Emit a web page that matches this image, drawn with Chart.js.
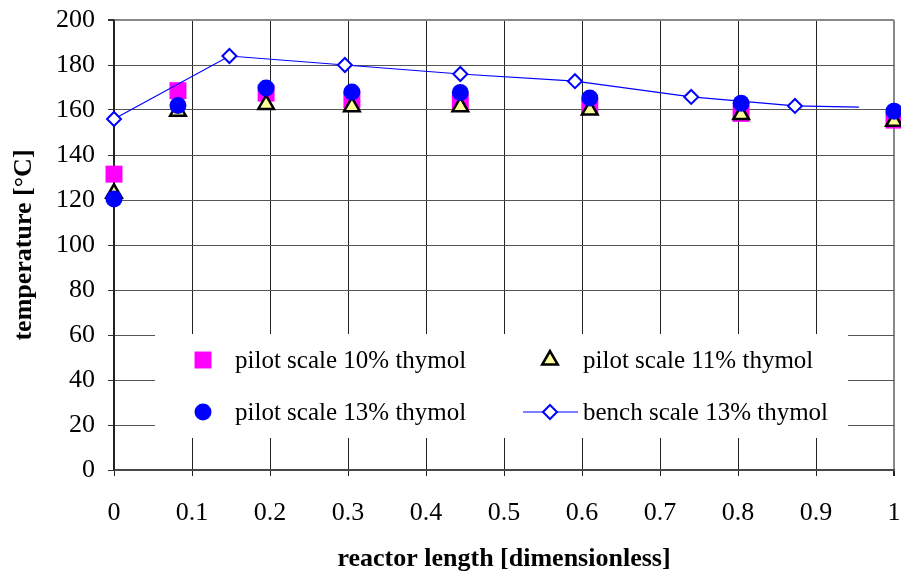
<!DOCTYPE html>
<html><head><meta charset="utf-8">
<script src="https://cdn.jsdelivr.net/npm/chart.js@4"></script>
<style>html,body{margin:0;padding:0;background:#fff}</style>
</head><body>
<canvas id="c" width="901" height="579"></canvas>
<script>
// ---- data ----
const xTickValues = [0, 0.1, 0.2, 0.3, 0.4, 0.5, 0.6, 0.7, 0.8, 0.9, 1];
const xTickLabels = ["0", "0.1", "0.2", "0.3", "0.4", "0.5", "0.6", "0.7", "0.8", "0.9", "1"];
const yTickValues = [0, 20, 40, 60, 80, 100, 120, 140, 160, 180, 200];
const yTickLabels = ["0", "20", "40", "60", "80", "100", "120", "140", "160", "180", "200"];

const pilotX   = [0, 0.082, 0.195, 0.305, 0.444, 0.610, 0.804, 1.0];
const pilot10  = [131.5, 168.6, 167.5, 164.5, 163.5, 161.5, 158.5, 155.5];
const pilot11  = [123, 159.5, 162.5, 161.5, 161.5, 160, 158, 155];
const pilot13  = [120.5, 162, 169.8, 168, 167.8, 165.3, 163, 159.5];

const benchX   = [0, 0.148, 0.296, 0.444, 0.591, 0.740, 0.873, 0.955];
const bench13  = [156, 184, 180, 176, 172.8, 165.8, 161.8, 161.3];
const benchMarker = [true, true, true, true, true, true, true, false];

const seriesNames = ["pilot scale 10% thymol", "pilot scale 11% thymol",
                     "pilot scale 13% thymol", "bench scale 13% thymol"];
const xTitle = "reactor length [dimensionless]";
const yTitle = "temperature [\u00B0C]";

const pts = (xs, ys) => xs.map((x, i) => ({x: x, y: ys[i]}));

const FONT = '"Liberation Serif", "Times New Roman", serif';

const legendPlugin = {
  id: 'boxLegend',
  afterDraw(chart) {
    const ctx = chart.ctx;
    const ca = chart.chartArea;
    ctx.save();
    const bx = ca.left + 41, by = ca.top + 314, bw = 693, bh = 104;
    ctx.fillStyle = '#ffffff';
    ctx.fillRect(bx, by, bw, bh);
    const markX = [bx + 48, bx + 395];
    const textX = [bx + 80, bx + 428];
    const rowY = [by + 26, by + 78];
    chart.data.datasets.forEach((ds, i) => {
      const col = i % 2, row = Math.floor(i / 2);
      const mx = markX[col], my = rowY[row];
      if (ds.showLine) {
        ctx.strokeStyle = ds.borderColor;
        ctx.lineWidth = ds.borderWidth;
        ctx.beginPath();
        ctx.moveTo(mx - 27, my);
        ctx.lineTo(mx + 28, my);
        ctx.stroke();
      }
      ctx.fillStyle = ds.pointBackgroundColor;
      ctx.strokeStyle = ds.pointBorderColor;
      ctx.lineWidth = ds.pointBorderWidth;
      Chart.helpers.drawPoint(ctx, {
        pointStyle: ds.pointStyle,
        radius: ds.legendRadius,
        rotation: 0,
        borderWidth: ds.pointBorderWidth
      }, mx, my);
      ctx.fillStyle = '#000';
      ctx.font = '25px ' + FONT;
      ctx.textBaseline = 'middle';
      ctx.textAlign = 'left';
      ctx.fillText(ds.label, textX[col], my + 1);
    });
    ctx.restore();
  }
};

new Chart(document.getElementById('c'), {
  type: 'scatter',
  data: {
    datasets: [
      {
        label: seriesNames[0], data: pts(pilotX, pilot10), order: 4, clip: false,
        pointStyle: 'rect', pointRadius: 12, legendRadius: 12,
        pointBackgroundColor: '#ff00ff', pointBorderColor: '#ff00ff', pointBorderWidth: 0,
        borderColor: '#ff00ff', backgroundColor: '#ff00ff'
      },
      {
        label: seriesNames[1], data: pts(pilotX, pilot11), order: 3, clip: false,
        pointStyle: 'triangle', pointRadius: 9, legendRadius: 9,
        pointBackgroundColor: '#ffff99', pointBorderColor: '#000000', pointBorderWidth: 2.5,
        borderColor: '#000000', backgroundColor: '#ffff99'
      },
      {
        label: seriesNames[2], data: pts(pilotX, pilot13), order: 1, clip: false,
        pointStyle: 'circle', pointRadius: 8.5, legendRadius: 8.5,
        pointBackgroundColor: '#0000ff', pointBorderColor: '#0000ff', pointBorderWidth: 0,
        borderColor: '#0000ff', backgroundColor: '#0000ff'
      },
      {
        label: seriesNames[3], data: pts(benchX, bench13), order: 2, clip: false,
        showLine: true, borderColor: '#0000ff', borderWidth: 1.2, backgroundColor: '#ffffff',
        pointStyle: 'rectRot', pointRadius: benchMarker.map(m => m ? 7 : 0), legendRadius: 7,
        pointBackgroundColor: '#ffffff', pointBorderColor: '#0000ff', pointBorderWidth: 2
      }
    ]
  },
  options: {
    responsive: false,
    animation: false,
    devicePixelRatio: 1,
    events: [],
    layout: {autoPadding: false, padding: {top: 20, right: 7, left: 0, bottom: 0}},
    plugins: {legend: {display: false}, tooltip: {enabled: false}},
    scales: {
      x: {
        type: 'linear', min: 0, max: 1,
        afterBuildTicks: s => { s.ticks = xTickValues.map(v => ({value: v})); },
        afterFit: s => { s.height = 109; s.paddingLeft = 0; s.paddingRight = 0; },
        ticks: {
          color: '#000', font: {family: FONT, size: 26}, padding: 22, maxRotation: 0,
          autoSkip: false,
          callback: (v, i) => xTickLabels[i]
        },
        grid: {
          color: c => (c.tick && c.tick.value === 1) ? '#888' : '#222',
          lineWidth: c => (c.tick && c.tick.value === 1) ? 2 : 1,
          tickLength: 6, tickColor: '#222'
        },
        border: {display: true, color: '#444', width: 1.5},
        title: {display: true, text: xTitle, color: '#000',
                font: {family: FONT, size: 26, weight: 'bold'}, padding: {top: 0, bottom: 4}}
      },
      y: {
        type: 'linear', min: 0, max: 200,
        afterBuildTicks: s => { s.ticks = yTickValues.map(v => ({value: v})); },
        afterFit: s => { s.width = 114; s.paddingTop = 0; s.paddingBottom = 0; },
        ticks: {
          color: '#000', font: {family: FONT, size: 26}, padding: 13,
          autoSkip: false,
          callback: (v, i) => yTickLabels[i]
        },
        grid: {
          color: c => (c.tick && c.tick.value === 200) ? '#888' : '#555',
          lineWidth: c => (c.tick && c.tick.value === 200) ? 2 : 1,
          tickLength: 6, tickColor: '#333'
        },
        border: {display: true, color: '#222', width: 1.5},
        title: {display: true, text: yTitle, color: '#000',
                font: {family: FONT, size: 26, weight: 'bold'}, padding: {top: 9, bottom: 0}}
      }
    }
  },
  plugins: [legendPlugin]
});
</script>
</body></html>
